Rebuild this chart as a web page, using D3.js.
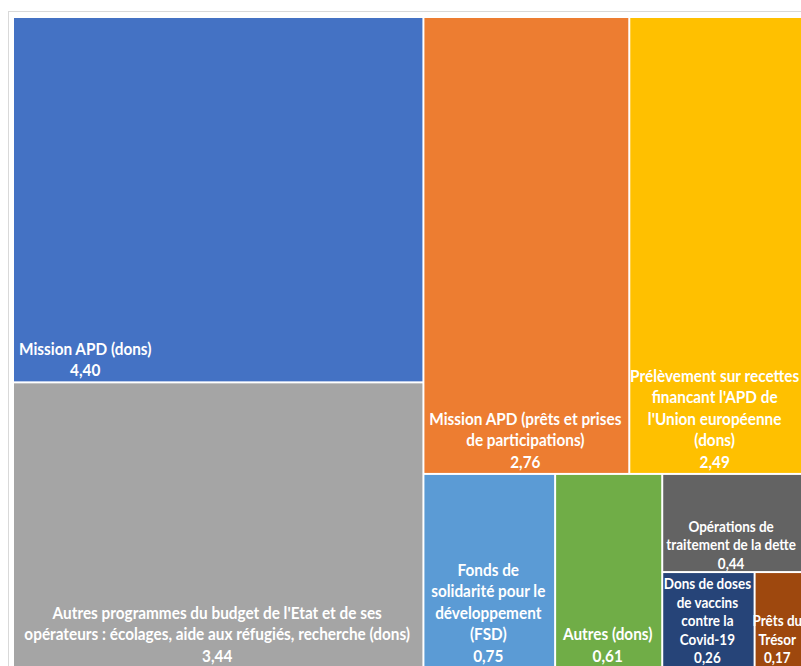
<!DOCTYPE html>
<html>
<head>
<meta charset="utf-8">
<script src="https://cdn.jsdelivr.net/npm/d3@7/dist/d3.min.js"></script>
<style>
  html, body { margin: 0; padding: 0; background: #ffffff; }
  svg { display: block; }
  .lbl { font-family: Lato, "Open Sans", sans-serif; font-weight: 700; fill: #ffffff; }
</style>
</head>
<body>
<svg id="chart" width="801" height="666"></svg>
<script>
// Financement de l'APD (Md€) — catégories et montants
const categories = [
  "Mission APD (dons)",
  "Autres programmes du budget de l'Etat et de ses opérateurs : écolages, aide aux réfugiés, recherche (dons)",
  "Mission APD (prêts et prises de participations)",
  "Prélèvement sur recettes finançant l'APD de l'Union européenne (dons)",
  "Fonds de solidarité pour le développement (FSD)",
  "Autres (dons)",
  "Opérations de traitement de la dette",
  "Dons de doses de vaccins contre la Covid-19",
  "Prêts du Trésor"
];
const values = [4.40, 3.44, 2.76, 2.49, 0.75, 0.61, 0.44, 0.26, 0.17];

// Libellés découpés en lignes, tels qu'affichés dans les cases
const labelLines = [
  ["Mission APD (dons)"],
  ["Autres programmes du budget de l'Etat et de ses", "opérateurs : écolages, aide aux réfugiés, recherche (dons)"],
  ["Mission APD (prêts et prises", "de participations)"],
  ["Prélèvement sur recettes", "financant l'APD de", "l'Union européenne", "(dons)"],
  ["Fonds de", "solidarité pour le", "développement", "(FSD)"],
  ["Autres (dons)"],
  ["Opérations de", "traitement de la dette"],
  ["Dons de doses", "de vaccins", "contre la", "Covid-19"],
  ["Prêts du", "Trésor"]
];

// Regroupement des cases (colonnes / lignes imbriquées)
const nesting = [[0, 1], [[2, 3], [4, 5, [6, [7, 8]]]]];

const palette = ["#4472C4", "#A5A5A5", "#ED7D31", "#FFC000", "#5B9BD5", "#70AD47", "#636363", "#264478", "#9E480E"];
const smallCells = new Set([6, 7, 8]);

const svg = d3.select("#chart");
const W = +svg.attr("width");
const plot = { x: 14, y: 18, w: 800, h: 649 };

// cadre du graphique
svg.append("rect")
  .attr("x", 8.5).attr("y", 11.5)
  .attr("width", 820).attr("height", 680)
  .attr("fill", "#ffffff").attr("stroke", "#d9d9d9").attr("stroke-width", 1);

function build(node) {
  return Array.isArray(node)
    ? { children: node.map(build) }
    : { index: node, value: values[node] };
}

const root = d3.hierarchy(build(nesting)).sum(d => d.value || 0);

d3.treemap()
  .tile(d3.treemapSliceDice)
  .size([plot.w, plot.h])
  .paddingInner(2)
  .round(false)(root);

const g = svg.append("g").attr("transform", `translate(${plot.x},${plot.y})`);
const leaves = root.leaves();

g.selectAll("rect.cell")
  .data(leaves)
  .join("rect")
  .attr("class", "cell")
  .attr("x", d => d.x0)
  .attr("y", d => d.y0)
  .attr("width", d => d.x1 - d.x0)
  .attr("height", d => d.y1 - d.y0)
  .attr("fill", d => palette[d.data.index]);

const fmt = v => d3.format(".2f")(v).replace(".", ",");
const sx = 0.93;
const visibleRight = W - plot.x;

leaves.forEach(d => {
  const i = d.data.index;
  const small = smallCells.has(i);
  const fs = small ? 14.5 : 16.5;
  const lh = small ? 18.4 : 21.5;
  const lines = labelLines[i].concat([fmt(values[i])]);
  const n = lines.length;
  const atBottom = d.y1 >= plot.h - 1;
  const baseLast = d.y1 - (small ? (atBottom ? 4 : 2.5) : 5);

  const lg = g.append("g");
  const texts = lines.map((t, k) =>
    lg.append("text")
      .attr("class", "lbl")
      .attr("font-size", fs)
      .attr("text-anchor", "middle")
      .attr("x", 0)
      .attr("y", baseLast - (n - 1 - k) * lh)
      .text(t)
  );

  // centré dans la partie visible de la case
  let cx = (d.x0 + Math.min(d.x1, visibleRight)) / 2 - 1;
  if (i === 0) {
    // libellé aligné à gauche dans la grande case
    const wMax = d3.max(texts, t => t.node().getComputedTextLength()) * sx;
    cx = d.x0 + 5 + wMax / 2;
  }
  lg.attr("transform", `translate(${cx},0) scale(${sx},1)`);
});
</script>
</body>
</html>
